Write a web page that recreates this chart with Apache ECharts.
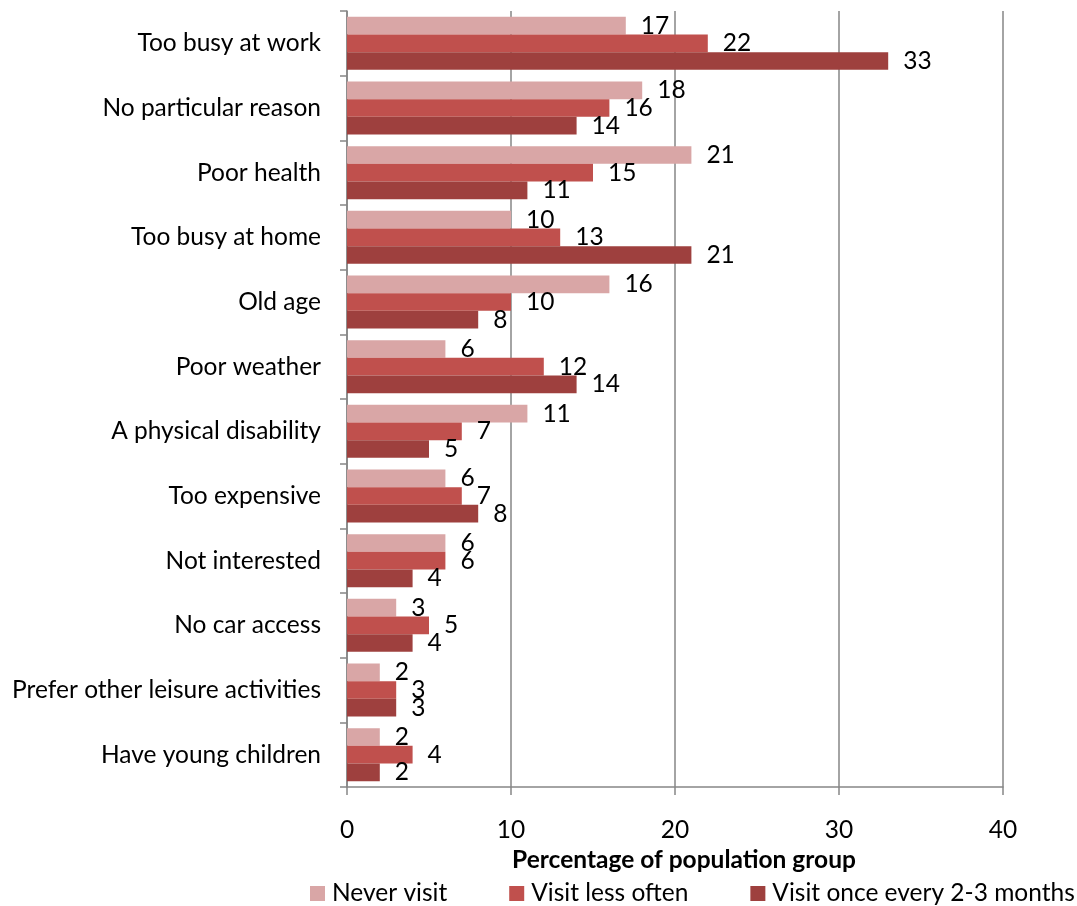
<!DOCTYPE html>
<html><head><meta charset="utf-8">
<script src="https://cdn.jsdelivr.net/npm/echarts@6/dist/echarts.min.js"></script>
<style>html,body{margin:0;padding:0;background:#fff;}#c{width:1077px;height:906px;}</style>
</head><body><div id="c"></div>
<script>
var categories = ["Too busy at work","No particular reason","Poor health","Too busy at home","Old age","Poor weather","A physical disability","Too expensive","Not interested","No car access","Prefer other leisure activities","Have young children"];
var seriesNames = ["Never visit","Visit less often","Visit once every 2-3 months"];
var neverVisit = [17,18,21,10,16,6,11,6,6,3,2,2];
var visitLessOften = [22,16,15,13,10,12,7,7,6,5,3,4];
var visitEvery2to3Months = [33,14,11,21,8,14,5,8,4,4,3,2];
var xTicks = [0,10,20,30,40];

var colors = ["#D9A6A6","#C0504D","#9E403E"];
var FONT = "Lato, 'Liberation Sans', sans-serif";
var FS = 24.5;
var values = [neverVisit, visitLessOften, visitEvery2to3Months];
var chart = echarts.init(document.getElementById('c'), null, {renderer:'canvas'});
chart.setOption({
  animation:false,
  textStyle:{fontFamily:FONT},
  grid:{left:347,right:74,top:11,bottom:119,containLabel:false},
  legend:{
    top:881,left:310,width:900,padding:0,itemWidth:15,itemHeight:15,itemGap:62,icon:'rect',
    textStyle:{fontSize:FS,color:'#000',fontFamily:FONT,padding:[0,0,0,2]},
    data:seriesNames
  },
  xAxis:{
    type:'value',min:xTicks[0],max:xTicks[xTicks.length-1],interval:10,
    name:'Percentage of population group',nameLocation:'middle',nameGap:57,
    nameTextStyle:{fontSize:FS,fontWeight:'bold',color:'#000',fontFamily:FONT,padding:[0,0,0,18]},
    axisLine:{show:true,lineStyle:{color:'#868686',width:1.5}},
    axisTick:{show:true,length:8,lineStyle:{color:'#868686',width:1.5}},
    axisLabel:{fontSize:FS,color:'#000',margin:31,fontFamily:FONT},
    splitLine:{show:true,lineStyle:{color:'#868686',width:1.5}}
  },
  yAxis:{
    type:'category',data:categories,inverse:true,
    axisLine:{show:true,lineStyle:{color:'#868686',width:1.5}},
    axisTick:{show:true,length:7,lineStyle:{color:'#868686',width:1.5}},
    axisLabel:{fontSize:FS,color:'#000',margin:26,fontFamily:FONT},
    splitLine:{show:false}
  },
  series: seriesNames.map(function(n,i){
    return {
      name:n,type:'bar',data:values[i],barGap:'0%',barCategoryGap:'18%',
      itemStyle:{color:colors[i]},
      label:{show:true,position:'right',distance:15,fontSize:FS,color:'#000',fontFamily:FONT}
    };
  })
});
</script></body></html>
